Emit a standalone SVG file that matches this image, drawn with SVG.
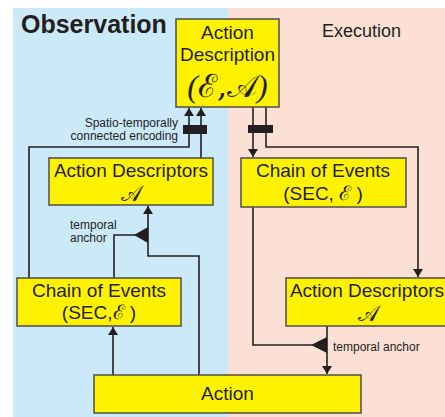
<svg xmlns="http://www.w3.org/2000/svg" width="445" height="417" viewBox="0 0 445 417">
<defs>
<marker id="ah" markerWidth="8" markerHeight="10" refX="8" refY="5" orient="auto" markerUnits="userSpaceOnUse">
<path d="M0,0 L8,5 L0,10 Z" fill="#231f20"/>
</marker>
<style>
.box{fill:#fff200;stroke:#4d4d4d;stroke-width:1.5}
.t{font-family:"Liberation Sans",Arial,sans-serif;font-size:19px;fill:#231f20;text-anchor:middle}
.s{font-family:"Liberation Sans",Arial,sans-serif;font-size:12px;fill:#231f20}
.m{font-family:"DejaVu Serif","Liberation Serif",serif;fill:#231f20;text-anchor:middle}
.p{font-family:"Liberation Serif",serif;font-style:italic}
.ln{fill:none;stroke:#231f20;stroke-width:1.6}
</style>
</defs>
<rect x="0" y="0" width="445" height="417" fill="#ffffff"/>
<rect x="13" y="8" width="215" height="409" fill="#cce9f9"/>
<rect x="228" y="8" width="217" height="409" fill="#fde0d5"/>
<text x="21" y="33" font-family="Liberation Sans,Arial,sans-serif" font-weight="bold" font-size="25" fill="#231f20">Observation</text>
<text x="322" y="37" font-family="Liberation Sans,Arial,sans-serif" font-size="18" fill="#231f20">Execution</text>

<g id="connectors">
<path class="ln" d="M29,278 V147 H189 V108" marker-end="url(#ah)"/>
<path class="ln" d="M201,158 V108" marker-end="url(#ah)"/>
<rect x="183" y="125" width="24" height="9" fill="#231f20"/>
<path class="ln" d="M113,375 V327" marker-end="url(#ah)"/>
<path class="ln" d="M199,375 V256 H148 V206" marker-end="url(#ah)"/>
<path class="ln" d="M114,278 V235 H136"/>
<path d="M134,235 L148,227 L148,243 Z" fill="#231f20"/>
<path class="ln" d="M253,107 V157" marker-end="url(#ah)"/>
<path class="ln" d="M266,107 V147 H418 V277" marker-end="url(#ah)"/>
<rect x="248" y="125" width="25" height="8" fill="#231f20"/>
<path class="ln" d="M253,207 V345 H313"/>
<path d="M311,345 L327,337 L327,353 Z" fill="#231f20"/>
<path class="ln" d="M327,326 V374" marker-end="url(#ah)"/>
</g>

<g id="action-description">
<rect class="box" x="176" y="19" width="103" height="88"/>
<text class="t" x="227.5" y="39">Action</text>
<text class="t" x="227.5" y="61">Description</text>
<text class="m" x="227.5" y="97" font-size="32"><tspan class="p">(</tspan>ℰ,𝒜<tspan class="p">)</tspan></text>
</g>

<text class="s" x="178" y="127" text-anchor="end">Spatio-temporally</text>
<text class="s" x="178" y="140" text-anchor="end">connected encoding</text>

<g id="action-descriptors-obs">
<rect class="box" x="49" y="158" width="164" height="47"/>
<text class="t" x="131" y="177">Action Descriptors</text>
<text class="m" x="131" y="201" font-size="22">𝒜</text>
</g>

<text class="s" x="70" y="229">temporal</text>
<text class="s" x="70" y="242">anchor</text>

<g id="chain-obs">
<rect class="box" x="17" y="278" width="164" height="48"/>
<text class="t" x="99" y="297">Chain of Events</text>
<text class="t" x="99" y="319">(SEC,<tspan class="m" font-size="20">ℰ</tspan> )</text>
</g>

<g id="chain-exec">
<rect class="box" x="241" y="158" width="165" height="49"/>
<text class="t" x="323" y="177">Chain of Events</text>
<text class="t" x="323" y="200">(SEC, <tspan class="m" font-size="20">ℰ</tspan> )</text>
</g>

<g id="action-descriptors-exec">
<rect class="box" x="286" y="278" width="164" height="48"/>
<text class="t" x="367" y="297">Action Descriptors</text>
<text class="m" x="368" y="321" font-size="22">𝒜</text>
</g>

<text class="s" x="333" y="351">temporal anchor</text>

<g id="action">
<rect class="box" x="94" y="375" width="267" height="38"/>
<text class="t" x="227.5" y="400">Action</text>
</g>
</svg>
